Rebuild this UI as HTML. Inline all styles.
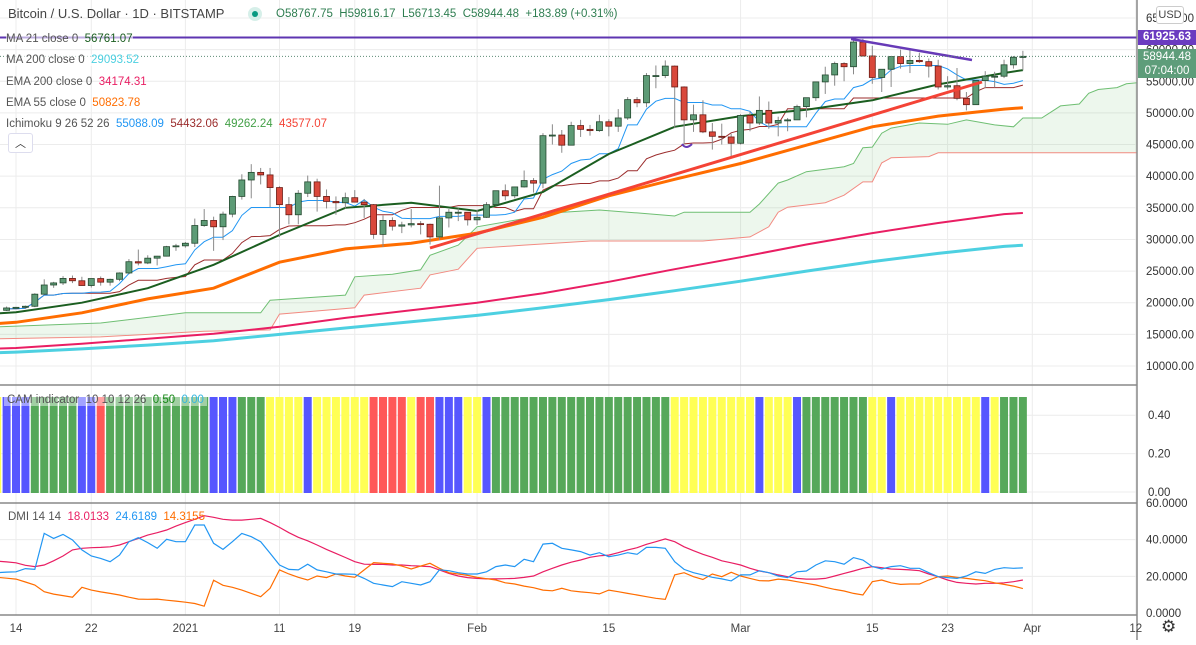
<!DOCTYPE html>
<html><head><meta charset="utf-8"><style>
html,body{margin:0;padding:0;background:#fff;}
body{width:1196px;height:640px;overflow:hidden;font-family:"Liberation Sans",sans-serif;}
svg text{font-family:"Liberation Sans",sans-serif;}
</style></head><body>
<svg id="chart" width="1196" height="640" xmlns="http://www.w3.org/2000/svg">
<g id="grid"></g>
<g id="main" clip-path="url(#clipMain)"></g>
<g id="cam" clip-path="url(#clipCam)"></g>
<g id="dmi"></g>
<g id="axes"></g>
<defs><clipPath id="clipMain"><rect x="0" y="0" width="1137" height="384"/></clipPath>
<clipPath id="clipCam"><rect x="0" y="386" width="1137" height="116"/></clipPath>
<clipPath id="clipDmi"><rect x="0" y="503" width="1137" height="112"/></clipPath></defs>
</svg>
<script>
// ===== data =====
const dayLabels = ["14","22","2021","11","19","Feb","15","Mar","15","23","Apr","12"];
const dayLabelIdx = [0,8,18,28,36,49,63,77,91,99,108,119];
const priceTicks = [65000,60000,55000,50000,45000,40000,35000,30000,25000,20000,15000,10000];
// candles from day -1 (Dec 13) : [open, high, low, close]
const candles = [
[18800,19400,18700,19170],[19170,19350,19000,19270],[19270,19550,19050,19440],[19440,21500,19300,21350],[21350,23700,21250,22800],
[22800,23300,22350,23130],[23130,24200,22800,23840],[23840,24300,23100,23470],[23470,24100,22700,22720],[22720,23800,22400,23820],
[23820,24150,22700,23250],[23250,23800,22700,23700],[23700,24800,23400,24700],[24700,26900,24500,26480],[26480,28400,25900,26280],
[26280,27500,26100,27040],[27040,27400,25900,27360],[27360,28990,27300,28860],[28860,29300,28200,28990],[28990,29600,28700,29400],
[29400,33300,28800,32200],[32200,34800,32000,33000],[33000,33600,28200,32000],[32000,34400,29900,34000],[34000,36900,33500,36800],
[36800,40300,36300,39400],[39400,41900,36500,40600],[40600,41300,38700,40200],[40200,41300,35100,38200],[38200,38400,30400,35500],
[35500,36700,32400,33900],[33900,37800,32400,37300],[37300,40100,36700,39100],[39100,39600,34400,36800],[36800,37900,34900,36000],
[36000,36800,33900,35800],[35800,37400,34900,36600],[36600,37800,35900,35900],[35900,36400,33400,35500],[35500,35600,30100,30800],
[30800,33800,28800,33000],[33000,33500,31400,32100],[32100,32800,31000,32300],[32300,34800,31900,32500],[32500,32900,30800,32400],
[32400,32500,29200,30400],[30400,38500,29900,33400],[33400,34800,31900,34300],[34300,34900,32900,34300],[34300,34300,32200,33100],
[33100,34700,32300,33500],[33500,35900,33400,35500],[35500,37700,35400,37700],[37700,38700,36200,36900],[36900,38300,36500,38300],
[38300,40900,38200,39300],[39300,39700,37400,38900],[38900,46800,38100,46400],[46400,48200,45000,46500],[46500,47300,43700,44900],
[44900,48600,44900,48000],[48000,48900,46200,47400],[47400,48100,46400,47200],[47200,49700,47000,48600],[48600,49000,46300,47900],
[47900,50600,47000,49200],[49200,52500,48900,52100],[52100,52500,50900,51600],[51600,56300,50900,55900],[55900,57500,53900,55900],
[55900,58300,55500,57400],[57400,57500,47600,54100],[54100,54200,45000,48900],[48900,51300,47000,49700],[49700,52000,46800,47000],
[47000,48400,44200,46300],[46300,48300,45000,46200],[46200,46700,43000,45200],[45200,49800,45000,49600],[49600,50200,47100,48400],
[48400,52600,48100,50400],[50400,51800,47500,48400],[48400,49400,46300,48800],[48800,49200,47100,48900],[48900,51300,48900,51000],
[51000,52400,49300,52400],[52400,54900,51900,54900],[54900,57300,53000,56000],[56000,58100,54300,57800],[57800,58000,55000,57300],
[57300,61700,56100,61200],[61200,61700,58900,59000],[59000,60600,54600,55600],[55600,56900,53300,56900],[56900,58900,54100,58900],
[58900,60000,57000,57800],[57800,59900,56300,58300],[58300,59500,57900,58100],[58100,58600,55600,57400],[57400,58400,53700,54100],
[54100,55800,53700,54300],[54300,57100,52000,52300],[52300,53300,50400,51300],[51300,55100,51300,55100],[55100,56600,53900,55800],
[55800,56500,54000,55800],[55800,58400,55500,57600],[57600,59000,57000,58800],[58767.75,59816.17,56713.45,58944.48]];
const lineDays = [-2,0,7,14,21,28,35,42,49,56,63,70,77,84,91,98,105,107];
const ma21 = [18300,18500,20000,22300,26000,30700,35000,35800,34500,37500,43500,47800,49500,50500,52000,54500,56300,56761];
const ema55 = [16700,16900,18400,20600,22300,26400,28500,29400,31000,33500,36900,39500,42000,44900,47800,49500,50600,50824];
const ema200 = [12750,12850,13500,14300,15100,16200,17600,18800,20000,21500,23300,25300,27200,29200,31000,32600,34000,34174];
const ma200 = [12100,12200,12700,13300,14000,15000,16000,17000,18000,19200,20500,21900,23400,25000,26500,27800,28900,29094];
const spanADays = [-2,9,18,26,27,35,36,40,43,44,47,49,54,57,62,66,70,71,78,79,81,82,84,88,89,90,91,92,93,96,99,101,104,106,107,109,111,113,114,115,117,118,120];
const spanA = [16200,16800,18400,18400,20400,21200,24100,24500,25200,27500,29100,32000,33300,34200,34650,34200,33700,34300,34300,35600,38900,39400,40700,41500,42000,44500,44600,46800,47600,48400,48200,48900,48100,47800,49200,49200,51100,51400,53100,53700,54000,54600,54900];
const spanBDays = [-2,9,20,27,28,36,37,43,44,47,49,54,61,73,78,80,81,82,86,88,90,91,92,93,97,98,120];
const spanB = [14300,14600,15500,15700,18200,19200,21200,22300,24400,25300,28600,29100,29750,29750,30400,32000,34300,35100,35800,37000,39100,39100,42100,42900,43100,43700,43700];
const camColors = "Y"+"BBB"+"GGGGG"+"BB"+"R"+"GGGGGGGGGGG"+"BBB"+"GGG"+"YYYY"+"B"+"YYYYYY"+"RRRR"+"Y"+"RR"+"BBB"+"YY"+"B"+"GGGGGGGGGGGGGGGGGGG"+"YYYYYYYYY"+"B"+"YYY"+"B"+"GGGGGGG"+"YY"+"B"+"YYYYYYYYY"+"B"+"Y"+"GGG";
const camValue = 0.5;
// DMI series from day -2
const dmiPlus = [22,22.3,22.5,24.2,23.8,43.4,40.7,42.9,39.8,34.4,31.1,29.8,28,31.6,38.9,41.1,38.4,35.3,40.2,38.9,38.9,48,48,38,34.7,38.9,43.4,41.6,38.9,32.6,26.2,23.8,23.5,26.6,23.5,22.5,21.3,21.3,21.1,18.9,16.2,15.3,14.4,17.1,16.2,15.3,17.1,23.5,23.1,22,21.3,21.3,22.5,25.3,26.2,25.3,29.3,28,37.6,38,35.3,34.4,33.5,31.6,32.9,30.7,31.6,32.9,32,35.8,35.8,35.3,28,23.8,22,20.8,19.5,18.6,17.5,20.8,20.8,23.1,22,20.2,19.3,22.5,22.9,26.2,28.5,28,26.6,30.2,28.9,25.3,24,25.3,25.8,24.4,24.4,22,19.8,19.3,18.9,20.2,22.5,21.6,23.8,24.7,24.4,24.6];
const dmiAdx = [28.3,27.9,27.4,26,25.3,26.2,28.5,31.1,34.4,35.3,35.6,35.8,36.1,37.1,38.9,40.7,42.5,43.8,45.3,47.4,49.3,51.1,53.1,52.2,51.1,50.7,50.7,51.1,51.6,49.3,46.7,43.8,41.3,39.4,37.1,34.7,32.5,30.3,28,26.6,26.5,26.5,26.2,26.2,25.8,25.6,25.3,23.5,21.6,20.2,19.3,18.9,18.6,18.6,18.7,18.9,19.4,20.2,22.5,24.4,26.2,27.7,28.9,30.4,31.2,31.6,32.9,34.4,35.6,37.5,38.9,40.4,38.9,36.1,34,32,30.4,28.5,27.4,26.2,24.4,22.9,22,20.8,19.8,18.9,18.5,18.5,18.9,20.2,21.6,22.9,24.4,25.3,24.7,24,23.8,23.5,23.1,21.3,19.8,18,16.7,16.2,15.8,16.2,16.2,16.5,17.1,18];
const dmiMinus = [19.5,19,18.5,16.9,15.3,11.6,10.3,9.5,8.6,14,12.5,11.5,10.7,9.8,8.6,7.6,7.5,7.6,7,6.5,5.9,5.2,3.7,17.9,15.1,14,12.5,10.7,8.9,13.5,23.5,21.3,19.5,18,20.2,19.3,21.3,20.2,19.5,23.5,27.5,27.1,26.8,25.6,24,25.6,27.1,24.4,22,21.3,20.5,19.5,18.7,18,16.5,15.8,14.7,13.8,12.5,12.1,13.5,12.1,11.5,11.1,10.4,12.5,11.6,10.7,9.8,8.9,8,7.5,20.8,22,19.8,18.3,21.3,19.8,22.2,20.2,18.9,17.6,17.5,18.5,18,17.1,16.2,15.3,14,12.9,12,10.7,9.8,17.1,18,16.5,15.6,15.8,15.8,18,19.8,20.2,19.5,18.9,18.2,17.6,16.5,15.6,14.7,13.3];

// ===== scales =====
const NS="http://www.w3.org/2000/svg";
const X = d => 16 + 9.41*d;
const Y = p => 18 + (65000-p)*0.006327;
const YD = v => 613 - v*1.833;
const YC = v => 493 - v*192;
function mk(tag, attrs, parent){const e=document.createElementNS(NS,tag);for(const k in attrs)e.setAttribute(k,attrs[k]);parent.appendChild(e);return e;}
const G=document.getElementById('grid'),M=document.getElementById('main'),C=document.getElementById('cam'),D=document.getElementById('dmi'),A=document.getElementById('axes');

// grid
dayLabelIdx.forEach(i=>{ const l=mk('line',{x1:X(i),x2:X(i),y1:0,y2:615,stroke:'#ececec','stroke-width':1},G);

});
priceTicks.forEach(p=>{ const l=mk('line',{x1:0,x2:1137,y1:Y(p),y2:Y(p),stroke:'#ececec'},G);

});
[0.4,0.2,0].forEach(v=>{mk('line',{x1:0,x2:1137,y1:YC(v)-1,y2:YC(v)-1,stroke:'#ececec'},G);});
[40,20].forEach(v=>{mk('line',{x1:0,x2:1137,y1:YD(v),y2:YD(v),stroke:'#ececec'},G);});

function poly(days, vals, yf, attrs, parent, name){
  const pts=days.map((d,i)=>X(d).toFixed(1)+','+yf(vals[i]).toFixed(1)).join(' ');
  const e=mk('polyline',Object.assign({points:pts,fill:'none'},attrs),parent);
  
  
  return e;
}
// cloud
const cloudPts = spanADays.map((d,i)=>X(d)+','+Y(spanA[i])).concat(spanBDays.slice().reverse().map((d,i)=>X(d)+','+Y(spanB[spanB.length-1-i]))).join(' ');
const cloud=mk('polygon',{points:cloudPts,fill:'rgba(76,175,80,0.1)'},M);


poly(spanADays,spanA,Y,{stroke:'#6fbf73','stroke-width':1},M,'ichimoku-span-a');
poly(spanBDays,spanB,Y,{stroke:'#f28b82','stroke-width':1},M,'ichimoku-span-b');
poly(lineDays,ma200,Y,{stroke:'#4dd0e1','stroke-width':3},M,'ma200-line');
poly(lineDays,ema200,Y,{stroke:'#e91e63','stroke-width':2},M,'ema200-line');
poly(lineDays,ema55,Y,{stroke:'#ff6d00','stroke-width':3},M,'ema55-line');
// tenkan / kijun from candles
const cd = candles.map((c,i)=>i-1);
function midline(n){return candles.map((c,i)=>{let h=-1e9,l=1e9;for(let j=Math.max(0,i-n+1);j<=i;j++){h=Math.max(h,candles[j][1]);l=Math.min(l,candles[j][2]);}return (h+l)/2;});}
poly(cd,midline(26),Y,{stroke:'#9b2c2c','stroke-width':1},M,'ichimoku-base-line');
poly(cd,midline(9),Y,{stroke:'#2196f3','stroke-width':1},M,'ichimoku-conversion-line');
poly(lineDays,ma21,Y,{stroke:'#1b5e20','stroke-width':2},M,'ma21-line');
// candles
candles.forEach((c,i)=>{
  const d=i-1,x=X(d),up=c[3]>=c[0];
  const w=mk('line',{x1:x,x2:x,y1:Y(c[1]),y2:Y(c[2]),stroke:'#8a8a8a','stroke-width':1},M);
  
  
  const top=Y(Math.max(c[0],c[3])),bot=Y(Math.min(c[0],c[3]));
  const b=mk('rect',{x:x-3,y:top,width:6,height:Math.max(1,bot-top),fill:up?'#5d9b76':'#d9483b',stroke:up?'#24492f':'#6b1c15','stroke-width':0.8},M);
  
  
});
// drawings
const tl=mk('line',{x1:430,y1:248,x2:982,y2:82,stroke:'#f44336','stroke-width':3},M);


const rl=mk('line',{x1:851,y1:39,x2:972,y2:60,stroke:'#673ab7','stroke-width':2.5},M);


const cu=mk('path',{d:'M682,144 Q686,150 692,144',stroke:'#673ab7','stroke-width':2,fill:'none'},M);


const hl=mk('line',{x1:0,x2:1137,y1:Y(61925.63),y2:Y(61925.63),stroke:'#5e35b1','stroke-width':2},M);


const pl=mk('line',{x1:0,x2:1137,y1:Y(58944.48),y2:Y(58944.48),stroke:'#5d8b75','stroke-width':1,'stroke-dasharray':'1,2'},M);



// CAM pane
const colMap={G:'#56a85a',Y:'#ffff55',B:'#5656ff',R:'#ff5858'};
camColors.split('').forEach((ch,i)=>{
  const d=i-2,x=X(d);
  const r=mk('rect',{x:x-4,y:YC(camValue),width:8,height:YC(0)-YC(camValue),fill:colMap[ch]},C);
  
  
});
// DMI pane
const dd=dmiPlus.map((v,i)=>i-2);
const dg=mk('g',{'clip-path':'url(#clipDmi)'},D);
poly(dd,dmiAdx,YD,{stroke:'#e91e63','stroke-width':1.2},dg,'dmi-adx-line');
poly(dd,dmiMinus,YD,{stroke:'#ff6d00','stroke-width':1.2},dg,'dmi-minus-di-line');
poly(dd,dmiPlus,YD,{stroke:'#2196f3','stroke-width':1.2},dg,'dmi-plus-di-line');

// separators & axes
[[385,'#888',1.5],[503,'#888',1.5],[615,'#888',1.5]].forEach(s=>{mk('line',{x1:0,x2:1137,y1:s[0],y2:s[0],stroke:s[1],'stroke-width':s[2]},A);});
mk('line',{x1:1137,x2:1137,y1:0,y2:640,stroke:'#888','stroke-width':1.5},A);
priceTicks.forEach(p=>{const t=mk('text',{x:1146,y:Y(p)+4,'font-size':11.5,fill:'#333'},A);t.textContent=p.toFixed(2);

});
[0.4,0.2,0].forEach(v=>{const t=mk('text',{x:1148,y:YC(v)+3,'font-size':11.5,fill:'#333'},A);t.textContent=v.toFixed(2);

});
[60,40,20,0].forEach(v=>{const t=mk('text',{x:1146,y:YD(v)+4,'font-size':11.5,fill:'#333'},A);t.textContent=v.toFixed(4);

});
dayLabels.forEach((s,i)=>{const t=mk('text',{x:X(dayLabelIdx[i]),y:632,'font-size':11.5,fill:'#444','text-anchor':'middle'},A);t.textContent=s;

});
</script>
<!-- overlays -->
<div style="position:absolute;left:8px;top:6px;font-size:13px;color:#444;white-space:nowrap;">Bitcoin / U.S. Dollar · 1D · BITSTAMP</div>
<div style="position:absolute;left:248px;top:7px;width:14px;height:14px;border-radius:7px;background:#d6efe9;"><div style="position:absolute;left:4px;top:4px;width:6px;height:6px;border-radius:3px;background:#089981;"></div></div>
<div style="position:absolute;left:276px;top:8px;font-size:11.5px;color:#2e7d50;white-space:nowrap;">O58767.75 &nbsp;H59816.17 &nbsp;L56713.45 &nbsp;C58944.48 &nbsp;+183.89 (+0.31%)</div>
<div style="position:absolute;left:6px;top:29px;font-size:11.5px;line-height:21.3px;color:#555;">
<div><span style="background:rgba(255,255,255,0.6)">MA 21 close 0 &nbsp;<span style="color:#1b5e20">56761.07</span></span></div>
<div><span style="background:rgba(255,255,255,0.6)">MA 200 close 0 &nbsp;<span style="color:#4dd0e1">29093.52</span></span></div>
<div>EMA 200 close 0 &nbsp;<span style="color:#e91e63">34174.31</span></div>
<div>EMA 55 close 0 &nbsp;<span style="color:#ff6d00">50823.78</span></div>
<div>Ichimoku 9 26 52 26 &nbsp;<span style="color:#2196f3">55088.09</span> &nbsp;<span style="color:#9b2c2c">54432.06</span> &nbsp;<span style="color:#43a047">49262.24</span> &nbsp;<span style="color:#f44336">43577.07</span></div>
</div>
<div style="position:absolute;left:8px;top:133px;width:23px;height:18px;border:1px solid #dde;border-radius:3px;background:#fff;font-size:11px;text-align:center;line-height:20px;color:#333;">︿</div>
<div style="position:absolute;left:4px;top:394px;padding:0 3px;font-size:11.5px;color:#555;background:rgba(255,255,255,0.45);white-space:nowrap;">CAM indicator &nbsp;10 10 12 26 &nbsp;<span style="color:#1b8a1b">0.50</span> &nbsp;<span style="color:#36b6e0">0.00</span></div>
<div style="position:absolute;left:8px;top:511px;font-size:11.5px;color:#555;white-space:nowrap;">DMI 14 14 &nbsp;<span style="color:#e91e63">18.0133</span> &nbsp;<span style="color:#2196f3">24.6189</span> &nbsp;<span style="color:#ff6d00">14.3155</span></div>
<div style="position:absolute;left:1156px;top:6px;width:26px;height:16px;border:1px solid #ccc;border-radius:3px;background:#fff;font-size:11px;color:#444;text-align:center;line-height:16px;">USD</div>
<div style="position:absolute;left:1138px;top:30px;width:58px;height:15px;background:#6a3bc0;color:#fff;font-size:11.5px;font-weight:bold;line-height:15px;text-align:center;">61925.63</div>
<div style="position:absolute;left:1138px;top:49px;width:58px;height:29px;background:#5e9d7a;color:#fff;font-size:11.5px;line-height:14px;text-align:center;padding-top:1px;box-sizing:border-box;">58944.48<br>07:04:00</div>
<div style="position:absolute;left:1161px;top:617px;font-size:17px;color:#333;">⚙</div>
</body></html>
